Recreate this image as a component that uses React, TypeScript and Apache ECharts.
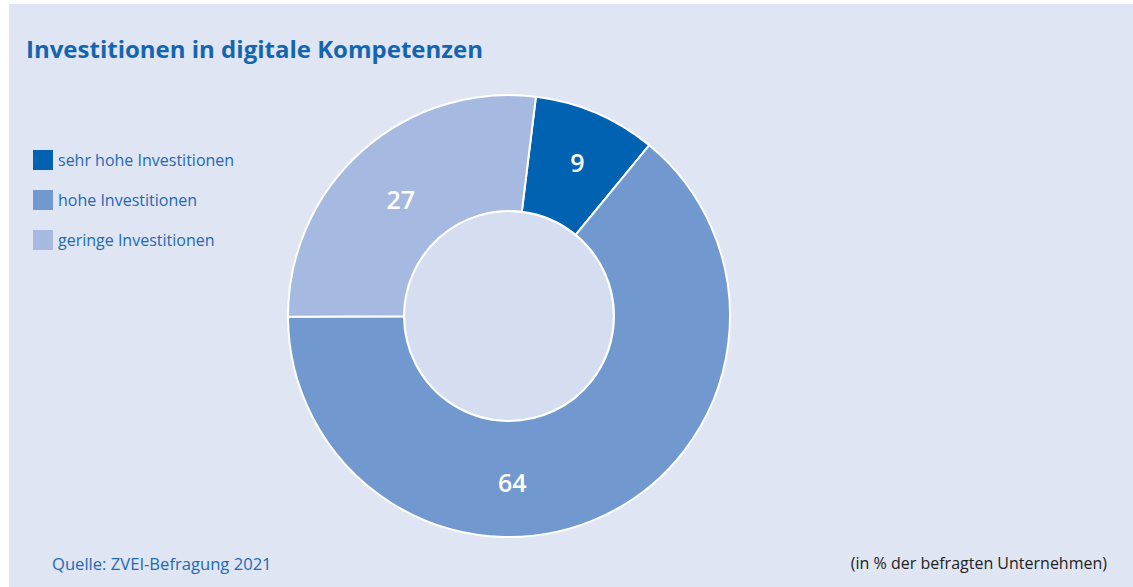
import React, { useEffect, useRef } from "react";
import * as echarts from "echarts";

const categories = ["sehr hohe Investitionen", "hohe Investitionen", "geringe Investitionen"];
const values = [9, 64, 27];
const colors = ["#0062b0", "#7199d0", "#a6b9e0"];
const labelOffsets: number[][] = [[3, -1], [-68, 16], [2, 7]];
const titleText = "Investitionen in digitale Kompetenzen";
const sourceText = "Quelle: ZVEI-Befragung 2021";
const unitText = "(in % der befragten Unternehmen)";

const FONT = "'Open Sans', 'Liberation Sans', sans-serif";

export default function App() {
  const ref = useRef<HTMLDivElement>(null);
  useEffect(() => {
    document.body.style.margin = "0";
    const chart = echarts.init(ref.current!, null, { renderer: "svg" });
    chart.setOption({
      animation: false,
      backgroundColor: "#ffffff",
      textStyle: { fontFamily: FONT },
      title: {
        text: titleText,
        left: 21,
        top: 31,
        textStyle: { color: "#1565ae", fontSize: 24, fontWeight: "bold", fontFamily: FONT },
      },
      legend: {
        orient: "vertical",
        left: 33,
        top: 150,
        padding: 0,
        icon: "rect",
        itemWidth: 20,
        itemHeight: 20,
        itemGap: 20,
        itemStyle: { borderWidth: 0 },
        textStyle: { color: "#1e6ab3", fontSize: 16, fontFamily: FONT, padding: [0, 0, 0, 0] },
        data: categories,
      },
      graphic: [
        { type: "rect", z: -10, shape: { x: 9, y: 4, width: 1124, height: 583 }, style: { fill: "#dfe5f3" } },
        { type: "circle", z: -5, shape: { cx: 509, cy: 316, r: 105 }, style: { fill: "#d5def1", stroke: "#ffffff", lineWidth: 2 } },
        { type: "text", left: 52, top: 555, style: { text: sourceText, fill: "#1e6ab3", font: `500 16.6px ${FONT}` } },
        { type: "text", right: 26, top: 555, style: { text: unitText, fill: "#222222", font: `500 16px ${FONT}` } },
      ],
      series: [
        {
          type: "pie",
          center: [509, 316],
          radius: [105, 221],
          startAngle: 83,
          clockwise: true,
          avoidLabelOverlap: false,
          itemStyle: { borderColor: "#ffffff", borderWidth: 2 },
          label: {
            show: true,
            position: "inside",
            formatter: "{c}",
            color: "#ffffff",
            fontSize: 25,
            fontWeight: 600,
            fontFamily: FONT,
          },
          labelLine: { show: false },
          emphasis: { disabled: true },
          data: categories.map((name, i) => ({
            name,
            value: values[i],
            itemStyle: { color: colors[i] },
            label: { offset: labelOffsets[i] },
          })),
        },
      ],
    });
    return () => chart.dispose();
  }, []);
  return <div ref={ref} style={{ width: 1133, height: 587 }} />;
}
